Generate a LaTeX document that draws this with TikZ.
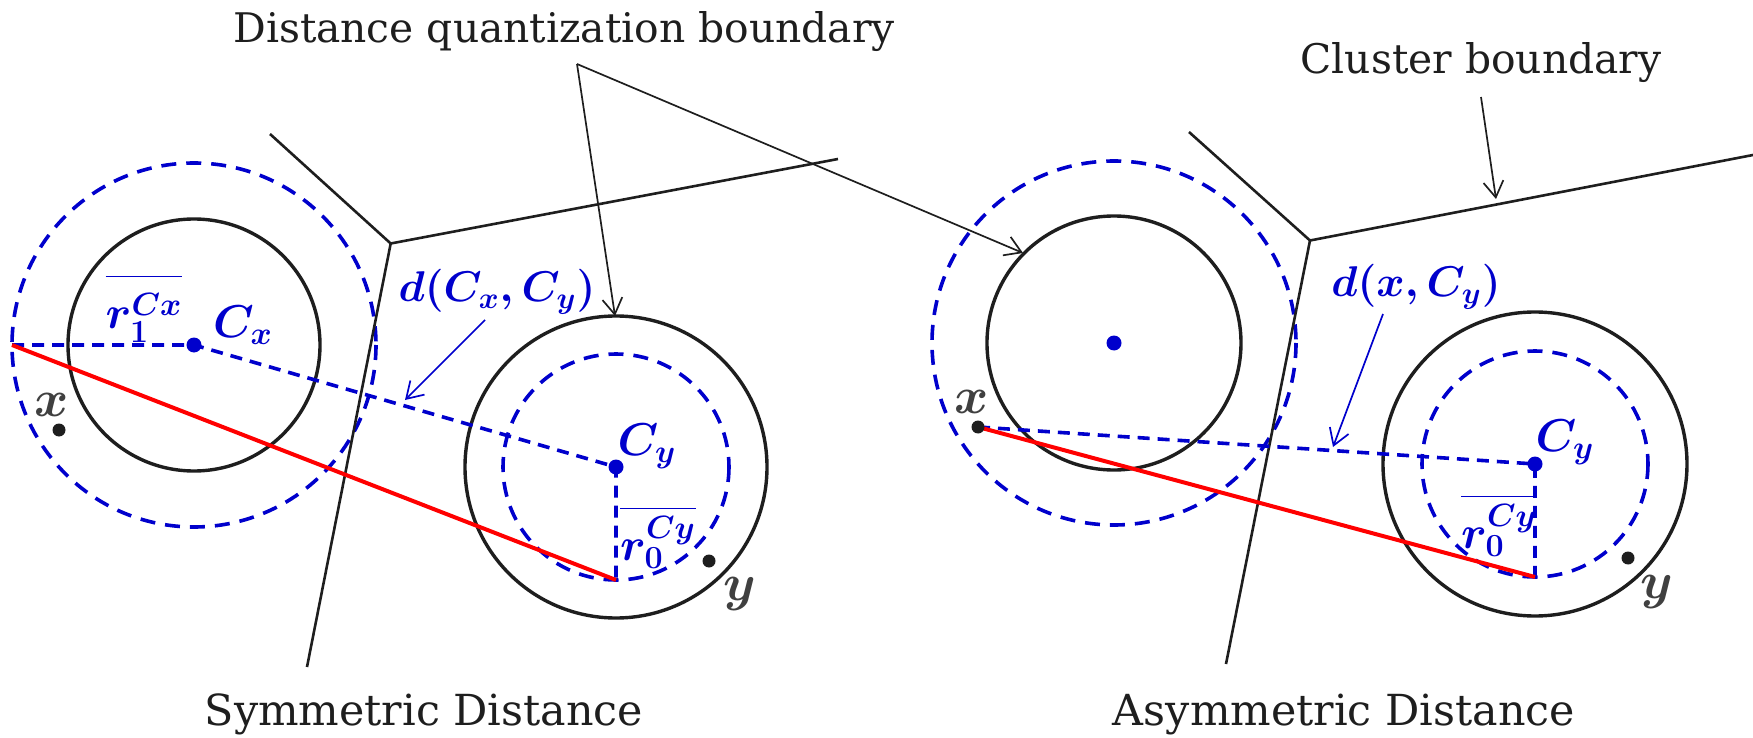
\RequirePackage{fix-cm}
\documentclass[tikz,border=0pt]{standalone}
\usepackage{fontspec}
\newfontfamily\titlefont{DejaVu Serif}
\usetikzlibrary{arrows.meta}
\definecolor{dblue}{RGB}{0,0,204}
\definecolor{dred}{RGB}{255,0,0}
\definecolor{ink}{RGB}{30,30,30}
\newcommand{\barlab}[1]{$\overline{\rule{0pt}{1.07em}#1}$}
\begin{document}
\begin{tikzpicture}[x=0.5pt,y=-0.5pt,
 bound/.style={draw=ink,line width=1.3pt},
 ring/.style={draw=ink,line width=1.7pt},
 qring/.style={draw=dblue,line width=1.8pt,dash pattern=on 7.5pt off 5pt},
 qline/.style={draw=dblue,line width=1.8pt,dash pattern=on 6pt off 4pt},
 redline/.style={draw=dred,line width=2pt},
 pointer/.style={draw=ink,line width=0.85pt,-{Straight Barb[length=8pt,width=10pt]}},
 bpointer/.style={draw=dblue,line width=0.85pt,-{Straight Barb[length=8pt,width=10pt]}},
 bdot/.style={circle,fill=dblue,inner sep=0,minimum size=7.5pt},
 kdot/.style={circle,fill=ink,inner sep=0,minimum size=6.5pt},
 title/.style={inner sep=0,anchor=base,font=\titlefont\fontsize{20.4}{26}\selectfont,text=ink},
 caption/.style={inner sep=0,anchor=base,font=\titlefont\fontsize{21.4}{28}\selectfont,text=ink},
 mlab/.style={inner sep=0,text=dblue,font=\fontsize{23}{28}\selectfont\boldmath},
 dlab/.style={inner sep=0,text=dblue,font=\fontsize{21.5}{28}\selectfont\boldmath},
 klab/.style={inner sep=0,text=ink!85,font=\fontsize{26}{30}\selectfont\boldmath},
]
\useasboundingbox (0,0) rectangle (1753,738);

% ---------- coordinates: left panel ----------
\coordinate (Cx) at (194,345);
\coordinate (Lx) at (12,345);
\coordinate (Cy) at (616,467);
\coordinate (Cyb) at (616,580);
\coordinate (Ptx) at (59,430);
\coordinate (Pty) at (709,561);
\coordinate (Ba) at (270,134);
\coordinate (Bj) at (390.7,243.5);
\coordinate (Bb) at (838,159);
\coordinate (Bc) at (307,667);
% ---------- coordinates: right panel ----------
\coordinate (Cz) at (1114,343);
\coordinate (Cw) at (1535,464);
\coordinate (Cwb) at (1535,577);
\coordinate (Ptx2) at (978,427);
\coordinate (Pty2) at (1628,558);
\coordinate (Ra) at (1189,132);
\coordinate (Rj) at (1310,240.5);
\coordinate (Rb) at (1753,155);
\coordinate (Rc) at (1226,664);

% ---------- circles ----------
\draw[ring] (Cx) circle[radius=126];
\draw[qring] (Cx) circle[radius=182];
\draw[ring] (Cy) circle[radius=151];
\draw[qring] (Cy) circle[radius=113];
\draw[ring] (Cz) circle[radius=127];
\draw[qring] (Cz) circle[radius=182];
\draw[ring] (Cw) circle[radius=152];
\draw[qring] (Cw) circle[radius=113];

% ---------- cluster boundaries ----------
\draw[bound] (Ba) -- (Bj) -- (Bb);
\draw[bound] (Bj) -- (Bc);
\draw[bound] (Ra) -- (Rj) -- (Rb);
\draw[bound] (Rj) -- (Rc);

% ---------- distances ----------
\draw[qline] (Lx) -- (Cx) -- (Cy) -- (Cyb);
\draw[redline] (Lx) -- (Cyb);
\draw[qline] (Ptx2) -- (Cw) -- (Cwb);
\draw[redline] (Ptx2) -- (Cwb);

% ---------- points ----------
\node[bdot] (dCx) at (Cx) {};
\node[bdot] (dCy) at (Cy) {};
\node[bdot] (dCz) at (Cz) {};
\node[bdot] (dCw) at (Cw) {};
\node[kdot] (dx1) at (Ptx) {};
\node[kdot] (dy1) at (Pty) {};
\node[kdot] (dx2) at (Ptx2) {};
\node[kdot] (dy2) at (Pty2) {};

% ---------- labels ----------
\node[klab] (lx1) at (52,405) {$x$};
\node[klab] (ly1) at (740,594) {$y$};
\node[klab] (lx2) at (972,402) {$x$};
\node[klab] (ly2) at (1657,592) {$y$};
\node[mlab] (lCx) at (243,325) {$C_x$};
\node[mlab] (lCy) at (647,446) {$C_y$};
\node[mlab] (lCw) at (1565,442) {$C_y$};
\node[mlab] (lr1) at (144,309) {\barlab{r_1^{Cx}}};
\node[mlab] (lr0) at (658,538) {\barlab{r_0^{Cy}}};
\node[mlab] (lr0b) at (1499,526) {\barlab{r_0^{Cy}}};
\node[dlab] (ldxy) at (497,292) {$d(C_x,C_y)$};
\node[dlab] (ldx) at (1416,287) {$d(x,C_y)$};

% ---------- titles ----------
\node[title] (tq) at (564,43) {Distance quantization boundary};
\node[title] (tc) at (1481,74) {Cluster boundary};
\node[caption] (ts) at (424,725) {Symmetric Distance};
\node[caption] (ta) at (1344,725) {Asymmetric Distance};

% ---------- pointers ----------
\coordinate (Qa) at (577,64);
\coordinate (Qt1) at (615,316);
\coordinate (Qt2) at (1023,253);
\draw[pointer] (Qa) -- (Qt1);
\draw[pointer] (Qa) -- (Qt2);
\coordinate (Ka) at (1481,97);
\coordinate (Kt) at (1496,199);
\draw[pointer] (Ka) -- (Kt);
\coordinate (Da) at (485,320);
\coordinate (Dt) at (405,400);
\draw[bpointer] (Da) -- (Dt);
\coordinate (Ea) at (1383,314);
\coordinate (Et) at (1333,447);
\draw[bpointer] (Ea) -- (Et);
\end{tikzpicture}
\end{document}
